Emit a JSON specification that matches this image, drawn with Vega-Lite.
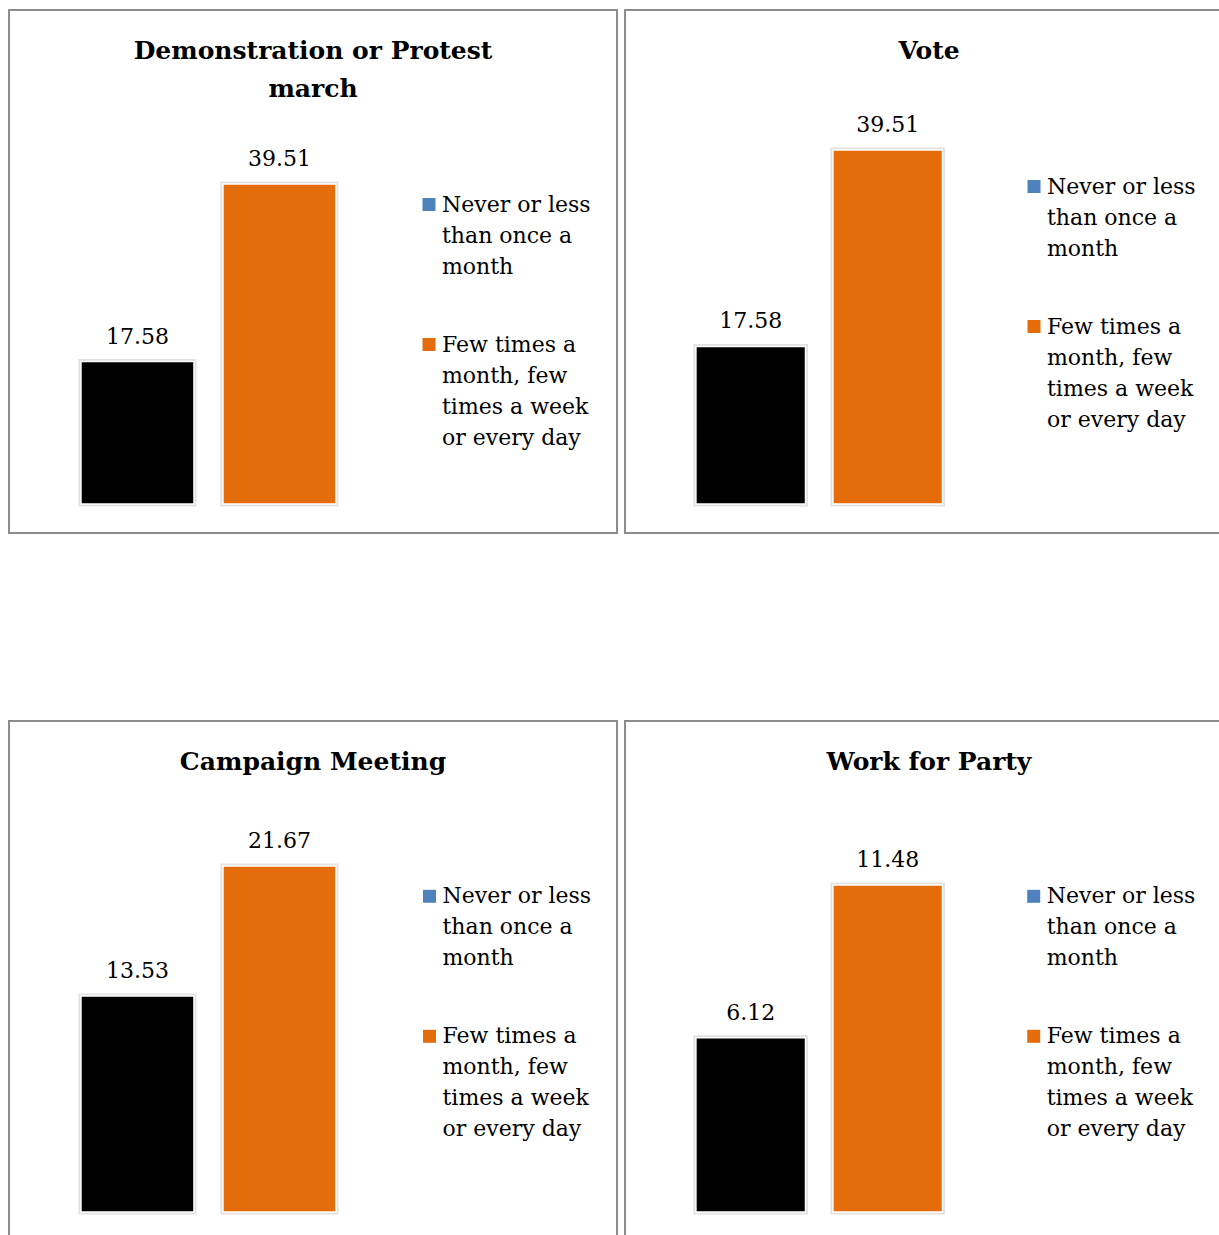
{
  "$schema": "https://vega.github.io/schema/vega-lite/v6.json",
  "padding": {"left": 8, "top": 9, "right": 0, "bottom": 0},
  "background": "white",
  "datasets": {
    "rows": [
      {"panel": "A", "cat": "Never or less than once a month", "value": 17.58},
      {"panel": "A", "cat": "Few times a month, few times a week or every day", "value": 39.51},
      {"panel": "B", "cat": "Never or less than once a month", "value": 17.58},
      {"panel": "B", "cat": "Few times a month, few times a week or every day", "value": 39.51},
      {"panel": "C", "cat": "Never or less than once a month", "value": 13.53},
      {"panel": "C", "cat": "Few times a month, few times a week or every day", "value": 21.67},
      {"panel": "D", "cat": "Never or less than once a month", "value": 6.12},
      {"panel": "D", "cat": "Few times a month, few times a week or every day", "value": 11.48}
    ]
  },
  "config": {
    "view": {"stroke": "#8c8c8c", "strokeWidth": 2},
    "style": {"guide-label": {"lineHeight": 31}},
    "title": {"font": "DejaVu Serif", "fontWeight": "bold", "fontSize": 25, "color": "#000000", "anchor": "middle", "baseline": "alphabetic", "lineHeight": 38, "offset": -53.5},
    "legend": {
      "orient": "none", "direction": "vertical", "columns": 1, "padding": 0,
      "labelFont": "DejaVu Serif", "labelFontSize": 22, "labelColor": "#000000",
      "labelLimit": 400, "labelOffset": 2, "labelBaseline": "middle",
      "symbolType": "square", "symbolSize": 169, "symbolStrokeWidth": 0, "rowPadding": 56
    }
  },
  "resolve": {"scale": {"color": "independent"}, "legend": {"color": "independent"}},
  "spacing": 186,
  "vconcat": [
    {
      "spacing": 6,
      "resolve": {"scale": {"color": "independent"}, "legend": {"color": "independent"}},
      "hconcat": [
        {
          "width": 608, "height": 523,
          "title": {"text": ["Demonstration or Protest", "march"], "offset": -92},
          "data": {"name": "rows"},
          "transform": [{"filter": "datum.panel === 'A'"}],
          "encoding": {
            "x": {"field": "cat", "type": "nominal", "axis": null, "scale": {"domain": ["Never or less than once a month", "Few times a month, few times a week or every day", " "], "paddingInner": 0.204, "paddingOuter": 0.743, "align": 0.341}},
            "y": {"field": "value", "type": "quantitative", "axis": null, "scale": {"domain": [-3.58, 60.99], "nice": false, "zero": false}}
          },
          "layer": [
            {"mark": {"type": "bar", "stroke": "#d4d4d4", "strokeWidth": 5, "strokeOpacity": 0.7},
             "encoding": {"color": {"field": "cat", "type": "nominal", "scale": {"domain": ["Never or less than once a month", "Few times a month, few times a week or every day"], "range": ["#4F81BD", "#E46C0A"]},
               "legend": {"title": null, "legendX": 409, "legendY": 183.5,
                 "labelExpr": "datum.label == 'Never or less than once a month' ? ['Never or less', 'than once a', 'month'] : ['Few times a', 'month, few', 'times a week', 'or every day']"}}}},
            {"mark": {"type": "bar", "stroke": "#ffffff", "strokeWidth": 1.5},
             "encoding": {"fill": {"condition": {"test": "datum.cat == 'Never or less than once a month'", "value": "#000000"}, "value": "#E46C0A"}}},
            {"mark": {"type": "text", "font": "DejaVu Serif", "fontSize": 22, "color": "#000000", "dy": -18, "baseline": "alphabetic", "align": "center"},
             "encoding": {"text": {"field": "value", "type": "quantitative", "format": ".2f"}}}
          ]
        },
        {
          "width": 608, "height": 523,
          "title": {"text": ["Vote"]},
          "data": {"name": "rows"},
          "transform": [{"filter": "datum.panel === 'B'"}],
          "encoding": {
            "x": {"field": "cat", "type": "nominal", "axis": null, "scale": {"domain": ["Never or less than once a month", "Few times a month, few times a week or every day", " "], "paddingInner": 0.2, "paddingOuter": 0.819, "align": 0.316}},
            "y": {"field": "value", "type": "quantitative", "axis": null, "scale": {"domain": [-3.24, 55.14], "nice": false, "zero": false}}
          },
          "layer": [
            {"mark": {"type": "bar", "stroke": "#d4d4d4", "strokeWidth": 5, "strokeOpacity": 0.7},
             "encoding": {"color": {"field": "cat", "type": "nominal", "scale": {"domain": ["Never or less than once a month", "Few times a month, few times a week or every day"], "range": ["#4F81BD", "#E46C0A"]},
               "legend": {"title": null, "legendX": 398, "legendY": 165.5,
                 "labelExpr": "datum.label == 'Never or less than once a month' ? ['Never or less', 'than once a', 'month'] : ['Few times a', 'month, few', 'times a week', 'or every day']"}}}},
            {"mark": {"type": "bar", "stroke": "#ffffff", "strokeWidth": 1.5},
             "encoding": {"fill": {"condition": {"test": "datum.cat == 'Never or less than once a month'", "value": "#000000"}, "value": "#E46C0A"}}},
            {"mark": {"type": "text", "font": "DejaVu Serif", "fontSize": 22, "color": "#000000", "dy": -18, "baseline": "alphabetic", "align": "center"},
             "encoding": {"text": {"field": "value", "type": "quantitative", "format": ".2f"}}}
          ]
        }
      ]
    },
    {
      "spacing": 6,
      "resolve": {"scale": {"color": "independent"}, "legend": {"color": "independent"}},
      "hconcat": [
        {
          "width": 608, "height": 523,
          "title": {"text": ["Campaign Meeting"]},
          "data": {"name": "rows"},
          "transform": [{"filter": "datum.panel === 'C'"}],
          "encoding": {
            "x": {"field": "cat", "type": "nominal", "axis": null, "scale": {"domain": ["Never or less than once a month", "Few times a month, few times a week or every day", " "], "paddingInner": 0.204, "paddingOuter": 0.743, "align": 0.341}},
            "y": {"field": "value", "type": "quantitative", "axis": null, "scale": {"domain": [-2.0, 30.75], "nice": false, "zero": false}}
          },
          "layer": [
            {"mark": {"type": "bar", "stroke": "#d4d4d4", "strokeWidth": 5, "strokeOpacity": 0.7},
             "encoding": {"color": {"field": "cat", "type": "nominal", "scale": {"domain": ["Never or less than once a month", "Few times a month, few times a week or every day"], "range": ["#4F81BD", "#E46C0A"]},
               "legend": {"title": null, "legendX": 409.5, "legendY": 164.3,
                 "labelExpr": "datum.label == 'Never or less than once a month' ? ['Never or less', 'than once a', 'month'] : ['Few times a', 'month, few', 'times a week', 'or every day']"}}}},
            {"mark": {"type": "bar", "stroke": "#ffffff", "strokeWidth": 1.5},
             "encoding": {"fill": {"condition": {"test": "datum.cat == 'Never or less than once a month'", "value": "#000000"}, "value": "#E46C0A"}}},
            {"mark": {"type": "text", "font": "DejaVu Serif", "fontSize": 22, "color": "#000000", "dy": -18, "baseline": "alphabetic", "align": "center"},
             "encoding": {"text": {"field": "value", "type": "quantitative", "format": ".2f"}}}
          ]
        },
        {
          "width": 608, "height": 523,
          "title": {"text": ["Work for Party"]},
          "data": {"name": "rows"},
          "transform": [{"filter": "datum.panel === 'D'"}],
          "encoding": {
            "x": {"field": "cat", "type": "nominal", "axis": null, "scale": {"domain": ["Never or less than once a month", "Few times a month, few times a week or every day", " "], "paddingInner": 0.2, "paddingOuter": 0.819, "align": 0.316}},
            "y": {"field": "value", "type": "quantitative", "axis": null, "scale": {"domain": [-1.12, 17.24], "nice": false, "zero": false}}
          },
          "layer": [
            {"mark": {"type": "bar", "stroke": "#d4d4d4", "strokeWidth": 5, "strokeOpacity": 0.7},
             "encoding": {"color": {"field": "cat", "type": "nominal", "scale": {"domain": ["Never or less than once a month", "Few times a month, few times a week or every day"], "range": ["#4F81BD", "#E46C0A"]},
               "legend": {"title": null, "legendX": 397.7, "legendY": 164.3,
                 "labelExpr": "datum.label == 'Never or less than once a month' ? ['Never or less', 'than once a', 'month'] : ['Few times a', 'month, few', 'times a week', 'or every day']"}}}},
            {"mark": {"type": "bar", "stroke": "#ffffff", "strokeWidth": 1.5},
             "encoding": {"fill": {"condition": {"test": "datum.cat == 'Never or less than once a month'", "value": "#000000"}, "value": "#E46C0A"}}},
            {"mark": {"type": "text", "font": "DejaVu Serif", "fontSize": 22, "color": "#000000", "dy": -18, "baseline": "alphabetic", "align": "center"},
             "encoding": {"text": {"field": "value", "type": "quantitative", "format": ".2f"}}}
          ]
        }
      ]
    }
  ]
}
